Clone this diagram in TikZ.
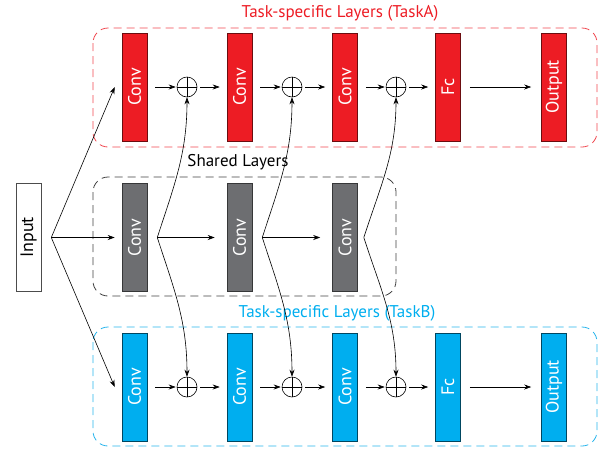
\documentclass[tikz,border=0pt]{standalone}
\usepackage{fontspec}
\setmainfont{PT Sans}
\usetikzlibrary{arrows.meta}

\definecolor{taskred}{HTML}{ED1C24}
\definecolor{taskblue}{HTML}{00AEEF}
\definecolor{sharedgray}{HTML}{6D6E71}
\definecolor{framered}{HTML}{F04850}
\definecolor{frameblue}{HTML}{27B4EC}

\newcommand{\vlabel}[1]{\rotatebox{90}{#1}}

\tikzset{
  layer/.style={draw=black!75, line width=0.6pt, minimum width=25pt, minimum height=108pt,
    inner sep=0pt, text=white, font=\fontsize{18}{20}\selectfont},
  redlayer/.style={layer, fill=taskred, draw=taskred!45!black},
  bluelayer/.style={layer, fill=taskblue, draw=taskblue!40!black},
  graylayer/.style={layer, fill=sharedgray, draw=sharedgray!50!black},
  addop/.style={circle, draw, line width=0.6pt, minimum size=20pt, inner sep=0pt,
    path picture={\draw[line width=0.6pt]
      (path picture bounding box.north) -- (path picture bounding box.south)
      (path picture bounding box.west) -- (path picture bounding box.east);}},
  arr/.style={-{Stealth[length=7pt,width=5pt]}, line width=0.6pt},
  frame/.style={dash pattern=on 8pt off 5pt, line width=0.8pt, rounded corners=15pt},
  title/.style={font=\fontsize{17}{19}\selectfont}
}

\begin{document}
\begin{tikzpicture}[x=1pt,y=-1pt]
\useasboundingbox (0,0) rectangle (601,448);

% dashed frames and their titles
\draw[frame, framered] (93,28) rectangle (597,147);
\draw[frame, black!75] (93,177) rectangle (396,296);
\draw[frame, frameblue] (93,327) rectangle (597,446);
\node[title, text=taskred] (ta) at (340,13) {Task-specific Layers (TaskA)};
\node[title] (sh) at (238,162) {Shared Layers};
\node[title, text=taskblue] (tb) at (337,313) {Task-specific Layers (TaskB)};

% input
\node[layer, fill=white, text=black, draw=black!70] (in) at (28.5,237.5) {\vlabel{Input}};

% task A
\node[redlayer] (a1) at (134.5,87) {\vlabel{Conv}};
\node[addop] (p1) at (187,87) {};
\node[redlayer] (a2) at (239.5,87) {\vlabel{Conv}};
\node[addop] (p2) at (292,87) {};
\node[redlayer] (a3) at (345,87) {\vlabel{Conv}};
\node[addop] (p3) at (396,87) {};
\node[redlayer] (a4) at (448,87) {\vlabel{Fc}};
\node[redlayer] (a5) at (554,87) {\vlabel{Output}};

% shared
\node[graylayer] (s1) at (134.5,237.5) {\vlabel{Conv}};
\node[graylayer] (s2) at (239.5,237.5) {\vlabel{Conv}};
\node[graylayer] (s3) at (345,237.5) {\vlabel{Conv}};

% task B
\node[bluelayer] (b1) at (134.5,387) {\vlabel{Conv}};
\node[addop] (q1) at (187,387) {};
\node[bluelayer] (b2) at (239.5,387) {\vlabel{Conv}};
\node[addop] (q2) at (292,387) {};
\node[bluelayer] (b3) at (345,387) {\vlabel{Conv}};
\node[addop] (q3) at (396,387) {};
\node[bluelayer] (b4) at (448,387) {\vlabel{Fc}};
\node[bluelayer] (b5) at (554,387) {\vlabel{Output}};

% branch points
\coordinate (in0) at ([xshift=10pt]in.east);
\coordinate (s1o) at ([xshift=10pt]s1.east);
\coordinate (s2o) at ([xshift=10pt]s2.east);
\coordinate (s3o) at ([xshift=6pt]s3.east);

% input to the three branches
\draw[arr] (in0) -- ([xshift=-7pt]a1.west);
\draw[arr] (in0) -- ([xshift=-7pt]s1.west);
\draw[arr] (in0) -- ([xshift=-7pt]b1.west);

% main flow, task A
\draw[arr, shorten <=8pt, shorten >=1pt] (a1) -- (p1);
\draw[arr, shorten <=3pt, shorten >=7pt] (p1) -- (a2);
\draw[arr, shorten <=8pt, shorten >=1pt] (a2) -- (p2);
\draw[arr, shorten <=3pt, shorten >=7pt] (p2) -- (a3);
\draw[arr, shorten <=8pt, shorten >=1pt] (a3) -- (p3);
\draw[arr, shorten <=3pt, shorten >=7pt] (p3) -- (a4);
\draw[arr, shorten <=9pt, shorten >=10pt] (a4) -- (a5);

% main flow, task B
\draw[arr, shorten <=8pt, shorten >=1pt] (b1) -- (q1);
\draw[arr, shorten <=3pt, shorten >=7pt] (q1) -- (b2);
\draw[arr, shorten <=8pt, shorten >=1pt] (b2) -- (q2);
\draw[arr, shorten <=3pt, shorten >=7pt] (q2) -- (b3);
\draw[arr, shorten <=8pt, shorten >=1pt] (b3) -- (q3);
\draw[arr, shorten <=3pt, shorten >=7pt] (q3) -- (b4);
\draw[arr, shorten <=9pt, shorten >=10pt] (b4) -- (b5);

% shared flow and its feeds into both tasks
\draw[arr, shorten >=12pt] (s1o) -- (s2);
\draw[arr, shorten >=12pt] (s2o) -- (s3);
\draw[arr] (s1o) to[out=72,in=-90] (p1.south);
\draw[arr] (s1o) to[out=-72,in=90] (q1.north);
\draw[arr] (s2o) to[out=72,in=-90] (p2.south);
\draw[arr] (s2o) to[out=-72,in=90] (q2.north);
\draw[arr] (s3o) to[out=72,in=-90] (p3.south);
\draw[arr] (s3o) to[out=-72,in=90] (q3.north);
\end{tikzpicture}
\end{document}
